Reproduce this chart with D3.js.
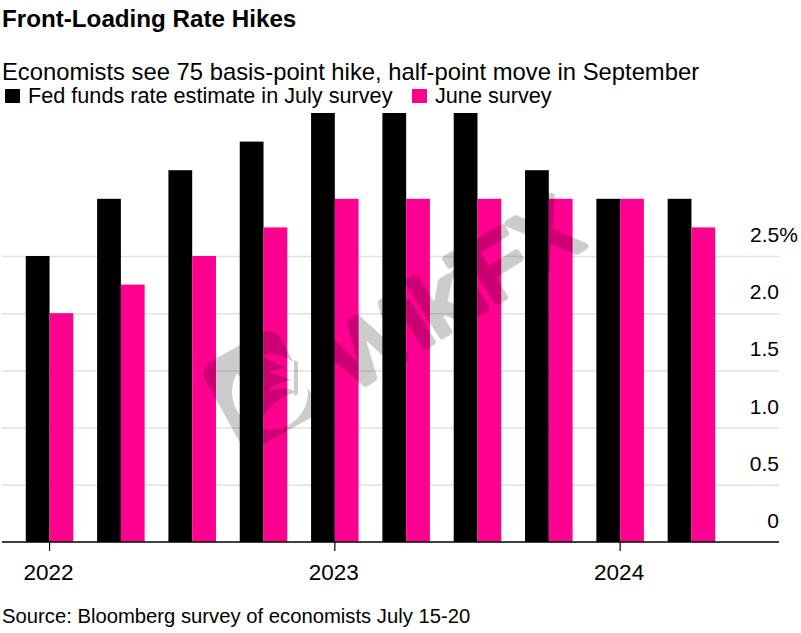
<!DOCTYPE html>
<html><head><meta charset="utf-8">
<script src="https://cdn.jsdelivr.net/npm/d3@7/dist/d3.min.js"></script>
<style>
html,body{margin:0;padding:0;background:#fff}
svg{display:block}
text{font-family:"Liberation Sans",Arial,sans-serif;fill:#000}
</style></head><body>
<svg id="c" width="801" height="633"></svg>
<script>
const categories=["2022 Q3","2022 Q4","2023 Q1","2023 Q2","2023 Q3","2023 Q4","2024 Q1","2024 Q2","2024 Q3","2024 Q4"];
const julySurvey=[2.5,3,3.25,3.5,3.75,3.75,3.75,3.25,3,3];
const juneSurvey=[2,2.25,2.5,2.75,3,3,3,3,3,2.75];
const yTicks=[0,0.5,1,1.5,2,2.5];
const yearTicks=[["2022 Q3","2022"],["2023 Q3","2023"],["2024 Q3","2024"]];
const seriesNames=["Fed funds rate estimate in July survey","June survey"];
const colors=["#000000","#ff0090"];

const svg=d3.select("#c");
const y=d3.scaleLinear().domain([0,3.75]).range([542,113]);
const x=d3.scaleBand().domain(categories).range([2,739]).paddingInner(1/3).paddingOuter(1/3);
const sub=d3.scaleBand().domain([0,1]).range([0,x.bandwidth()]);

// gridlines
const yAxis=d3.axisRight(y).tickValues(yTicks).tickSize(777).tickFormat("");
const grid=svg.append("g").attr("transform","translate(2,0)").call(yAxis);
grid.select(".domain").remove();
grid.selectAll("text").remove();
grid.selectAll("line").attr("stroke","#e2e2e2").attr("stroke-width",1.5);
grid.selectAll(".tick").filter(d=>d===0).remove();

// bars
[julySurvey,juneSurvey].forEach((vals,i)=>{
  svg.append("g").selectAll("rect").data(vals).join("rect")
    .attr("x",(d,k)=>x(categories[k])+sub(i))
    .attr("width",sub.bandwidth())
    .attr("y",d=>y(d))
    .attr("height",d=>y(0)-y(d))
    .attr("fill",colors[i]);
});

// y labels
svg.append("g").selectAll("text").data(yTicks).join("text")
  .attr("x",d=>d===2.5?750:779).attr("y",d=>y(d)-14)
  .attr("text-anchor",d=>d===2.5?"start":"end")
  .attr("font-size",21)
  .text(d=>d===0?"0":d===2.5?"2.5%":d.toFixed(1));

// x axis
const xAxis=d3.axisBottom(x).tickValues(yearTicks.map(d=>d[0])).tickSize(9).tickFormat("");
const xg=svg.append("g").attr("transform","translate(0,542)").call(xAxis);
xg.select(".domain").remove();
xg.selectAll("text").remove();
xg.selectAll("line").attr("stroke","#000").attr("stroke-width",1.2);
svg.append("line").attr("x1",2).attr("x2",779).attr("y1",y(0)).attr("y2",y(0)).attr("stroke","#000").attr("stroke-width",1.5);
svg.append("g").selectAll("text").data(yearTicks).join("text")
  .attr("x",d=>x(d[0])+x.bandwidth()/2-1).attr("y",580).attr("text-anchor","middle")
  .attr("font-size",22.5).text(d=>d[1]);

// titles
svg.append("text").attr("x",2).attr("y",27).attr("font-size",24.2).attr("font-weight",700).text("Front-Loading Rate Hikes");
svg.append("text").attr("x",2).attr("y",80).attr("font-size",23.8).text("Economists see 75 basis-point hike, half-point move in September");
svg.append("text").attr("x",2).attr("y",623).attr("font-size",20.25).text("Source: Bloomberg survey of economists July 15-20");

// legend
const lx=[5,412];
seriesNames.forEach((n,i)=>{
  svg.append("rect").attr("x",lx[i]).attr("y",89).attr("width",15).attr("height",14).attr("fill",colors[i]);
  svg.append("text").attr("x",lx[i]+23).attr("y",103).attr("font-size",21.65).text(n);
});

// watermark
const wm=svg.append("g").style("mix-blend-mode","multiply");
wm.append("rect").attr("x",-43).attr("y",-49).attr("width",86).attr("height",98).attr("rx",14)
  .attr("transform","translate(260,390) rotate(-29)").attr("fill","#cccccc");
wm.append("circle").attr("cx",270).attr("cy",392).attr("r",38).attr("fill","#fff");
wm.append("path").attr("d","M236,372 L262,356 L286,368 L268,372 L292,380 Q272,384 268,392 Q284,384 296,392 Q276,398 268,410 L262,418 Q258,400 250,392 Q244,382 236,372Z").attr("fill","#cccccc");
wm.append("path").attr("d","M294,360 L298,362 L298,394 L294,396Z").attr("fill","#cccccc");
wm.append("text").attr("transform","translate(350,393) rotate(-32)")
  .attr("font-size",88)
  .attr("stroke","#cccccc").attr("stroke-width",7).attr("stroke-linejoin","round")
  .style("fill","#cccccc").text("WikiFX");
</script>
</body></html>
